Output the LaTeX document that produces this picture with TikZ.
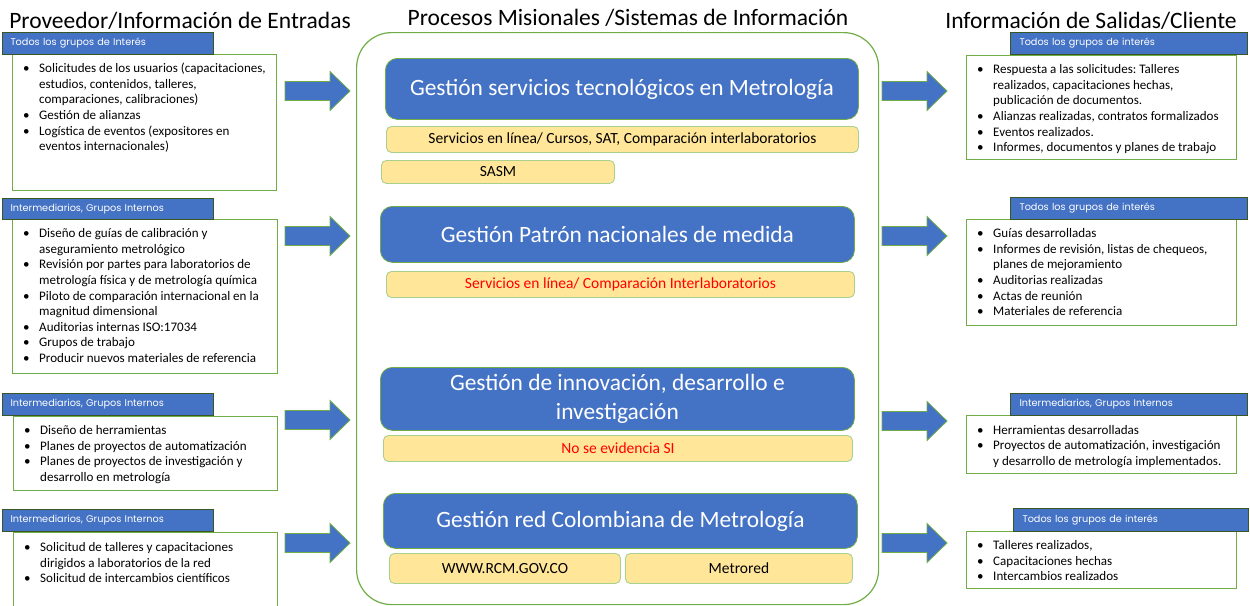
\documentclass[tikz,border=0pt]{standalone}
\usepackage{fontspec}
\setmainfont{Carlito}
\newfontfamily\hdrfont{Poppins}
\frenchspacing
\definecolor{bblue}{HTML}{4472C4}
\definecolor{lgreen}{HTML}{70AD47}
\definecolor{dgreen}{HTML}{385723}
\definecolor{yfill}{HTML}{FFE699}
\definecolor{yborder}{HTML}{A9D18E}
\definecolor{rtext}{HTML}{FF0000}
\newcommand{\bfs}{\fontsize{13.05}{15.6}\selectfont}
\newcommand{\bl}[1]{\textbullet & #1\\}
\newcommand{\cl}[1]{& #1\\}
\newenvironment{blist}{\begin{tabular}{@{}p{16pt}@{}l@{}}}{\end{tabular}}
\begin{document}
\begin{tikzpicture}[x=1pt,y=-1pt,
  hdr/.style={draw=dgreen, line width=1pt, fill=bblue, text=white,
    font=\hdrfont\fontsize{9.7}{11}\selectfont, anchor=north west,
    inner xsep=8pt, inner ysep=0pt, align=left},
  body/.style={draw=lgreen, line width=1.3pt, fill=white, anchor=north west, inner sep=0pt},
  txt/.style={font=\bfs, inner sep=0pt, anchor=north west},
  title/.style={font=\fontsize{23.5}{28}\selectfont, anchor=base},
  cont/.style={draw=lgreen, line width=1.2pt, rounded corners=35pt, anchor=north west, inner sep=0pt},
  bbox/.style={draw=lgreen, line width=0.8pt, fill=bblue, rounded corners=12pt, text=white,
    font=\fontsize{23.4}{28.5}\selectfont, align=center, anchor=north west, inner sep=0pt},
  ybox/.style={draw=yborder, line width=0.9pt, fill=yfill, rounded corners=5pt,
    font=\fontsize{15.5}{18}\selectfont, anchor=north west, inner sep=0pt},
  arrowfill/.style={draw=lgreen, line width=0.8pt, fill=bblue},
  barrow/.pic={\draw[arrowfill] (0,-9.5) -- (45,-9.5) -- (45,-19.5) -- (65,0) -- (45,19.5) -- (45,9.5) -- (0,9.5) -- cycle;}
]
\useasboundingbox (0,0) rectangle (1250,605);

% titles
\node[title] (tl) at (180,28) {Proveedor/Información de Entradas};
\node[title] (tc) at (628,25) {Procesos Misionales /Sistemas de Información};
\node[title] (tr) at (1091,28) {Información de Salidas/Cliente};

% left bodies
\node[body, minimum width=264pt, minimum height=136pt] (b1) at (12,54) {};
\node[body, minimum width=265pt, minimum height=154pt] (b2) at (12,219) {};
\node[body, minimum width=264pt, minimum height=74pt] (b3) at (13,416) {};
\node[body, minimum width=264pt, minimum height=78pt] (b4) at (13,532) {};
% left headers
\node[hdr, text width=195pt, minimum height=22pt] (h1) at (2,32) {Todos los grupos de Interés};
\node[hdr, text width=195pt, minimum height=21pt] (h2) at (2,198) {Intermediarios, Grupos Internos};
\node[hdr, text width=195pt, minimum height=22pt] (h3) at (2,393) {Intermediarios, Grupos Internos};
\node[hdr, text width=195pt, minimum height=22pt] (h4) at (2,509) {Intermediarios, Grupos Internos};
% left texts
\node[txt] (t1) at (23,61.5) {\begin{blist}
\bl{Solicitudes de los usuarios (capacitaciones,}
\cl{estudios, contenidos, talleres,}
\cl{comparaciones, calibraciones)}
\bl{Gestión de alianzas}
\bl{Logística de eventos (expositores en}
\cl{eventos internacionales)}
\end{blist}};
\node[txt] (t2) at (23,226.5) {\begin{blist}
\bl{Diseño de guías de calibración y}
\cl{aseguramiento metrológico}
\bl{Revisión por partes para laboratorios de}
\cl{metrología física y de metrología química}
\bl{Piloto de comparación internacional en la}
\cl{magnitud dimensional}
\bl{Auditorias internas ISO:17034}
\bl{Grupos de trabajo}
\bl{Producir nuevos materiales de referencia}
\end{blist}};
\node[txt] (t3) at (24,423.5) {\begin{blist}
\bl{Diseño de herramientas}
\bl{Planes de proyectos de automatización}
\bl{Planes de proyectos de investigación y}
\cl{desarrollo en metrología}
\end{blist}};
\node[txt] (t4) at (24,540.5) {\begin{blist}
\bl{Solicitud de talleres y capacitaciones}
\cl{dirigidos a laboratorios de la red}
\bl{Solicitud de intercambios científicos}
\end{blist}};

% left arrows
\pic at (285,91) {barrow};
\pic at (285,236) {barrow};
\pic at (285,420) {barrow};
\pic at (285,543) {barrow};

% container
\node[cont, minimum width=522pt, minimum height=572pt] (cont) at (356,32) {};
\node[bbox, minimum width=473pt, minimum height=61pt] (g1) at (385,58) {Gestión servicios tecnológicos en Metrología};
\node[ybox, minimum width=472pt, minimum height=26pt] (y1) at (386,126) {Servicios en línea/ Cursos, SAT, Comparación interlaboratorios};
\node[ybox, minimum width=233pt, minimum height=23pt] (y1b) at (381,160) {SASM};
\node[bbox, minimum width=474pt, minimum height=56pt] (g2) at (380,206) {Gestión Patrón nacionales de medida};
\node[ybox, minimum width=468pt, minimum height=26pt, text=rtext] (y2) at (386,271) {Servicios en línea/ Comparación Interlaboratorios};
\node[bbox, minimum width=474pt, minimum height=63pt] (g3) at (380,367) {Gestión de innovación, desarrollo e\\investigación};
\node[ybox, minimum width=469pt, minimum height=26pt, text=rtext] (y3) at (383,435) {No se evidencia SI};
\node[bbox, minimum width=474pt, minimum height=55pt] (g4) at (383,493) {Gestión red Colombiana de Metrología};
\node[ybox, minimum width=231pt, minimum height=30pt] (y4a) at (389,553) {WWW.RCM.GOV.CO};
\node[ybox, minimum width=227pt, minimum height=30pt] (y4b) at (625,553) {Metrored};

% right arrows
\pic at (882,91) {barrow};
\pic at (882,236) {barrow};
\pic at (882,421) {barrow};
\pic at (882,543) {barrow};

% right bodies
\node[body, minimum width=270pt, minimum height=104pt] (rb1) at (966,55) {};
\node[body, minimum width=270pt, minimum height=106pt] (rb2) at (966,219) {};
\node[body, minimum width=270pt, minimum height=58pt] (rb3) at (966,415) {};
\node[body, minimum width=270pt, minimum height=57pt] (rb4) at (966,531) {};
% right headers
\node[hdr, inner xsep=9pt, text width=219pt, minimum height=22pt] (rh1) at (1010,32) {Todos los grupos de interés};
\node[hdr, inner xsep=9pt, text width=219pt, minimum height=22pt] (rh2) at (1010,197) {Todos los grupos de interés};
\node[hdr, inner xsep=9pt, text width=219pt, minimum height=22pt] (rh3) at (1010,393) {Intermediarios, Grupos Internos};
\node[hdr, inner xsep=9pt, text width=217pt, minimum height=23pt] (rh4) at (1013,508) {Todos los grupos de interés};
% right texts
\node[txt] (rt1) at (977,62.5) {\begin{blist}
\bl{Respuesta a las solicitudes: Talleres}
\cl{realizados, capacitaciones hechas,}
\cl{publicación de documentos.}
\bl{Alianzas realizadas, contratos formalizados}
\bl{Eventos realizados.}
\bl{Informes, documentos y planes de trabajo}
\end{blist}};
\node[txt] (rt2) at (977,226.5) {\begin{blist}
\bl{Guías desarrolladas}
\bl{Informes de revisión, listas de chequeos,}
\cl{planes de mejoramiento}
\bl{Auditorias realizadas}
\bl{Actas de reunión}
\bl{Materiales de referencia}
\end{blist}};
\node[txt] (rt3) at (977,423) {\begin{blist}
\bl{Herramientas desarrolladas}
\bl{Proyectos de automatización, investigación}
\cl{y desarrollo de metrología implementados.}
\end{blist}};
\node[txt] (rt4) at (977,538.5) {\begin{blist}
\bl{Talleres realizados,}
\bl{Capacitaciones hechas}
\bl{Intercambios realizados}
\end{blist}};
\end{tikzpicture}
\end{document}
